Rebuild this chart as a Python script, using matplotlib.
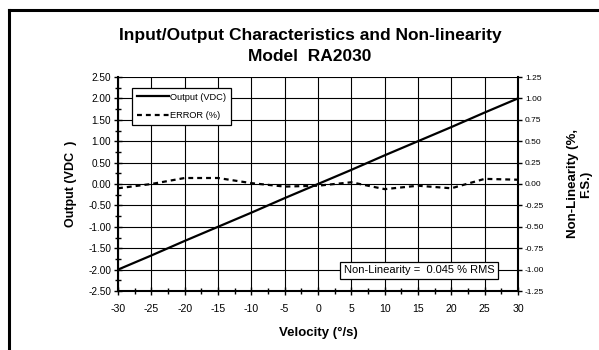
import matplotlib
matplotlib.use("Agg")
import matplotlib.pyplot as plt
from matplotlib.lines import Line2D

plt.rcParams['font.family'] = ['Liberation Sans', 'DejaVu Sans']

velocity = [-30, -25, -20, -15, -10, -5, 0, 5, 10, 15, 20, 25, 30]
output_vdc = [-2.00, -1.67, -1.33, -1.00, -0.67, -0.33, 0.00, 0.33, 0.67, 1.00, 1.33, 1.67, 2.00]
error_pct = [-0.05, 0.00, 0.07, 0.07, 0.01, -0.03, -0.02, 0.02, -0.06, -0.02, -0.05, 0.06, 0.05]

x_ticks = [-30, -25, -20, -15, -10, -5, 0, 5, 10, 15, 20, 25, 30]
left_ticks = [-2.5, -2.0, -1.5, -1.0, -0.5, 0.0, 0.5, 1.0, 1.5, 2.0, 2.5]
right_ticks = [-1.25, -1.0, -0.75, -0.5, -0.25, 0.0, 0.25, 0.5, 0.75, 1.0, 1.25]

fig = plt.figure(figsize=(5.99, 3.5), dpi=100)
W, H = 599, 350
ax = fig.add_axes([118 / W, 1 - 291 / H, 400 / W, 214 / H])
ax2 = ax.twinx()

ax.plot(velocity, output_vdc, color='black', lw=1.6, zorder=3)
ax2.plot(velocity, error_pct, color='black', lw=1.6, dashes=(2.2, 1.8), zorder=3)

ax.set_xlim(-30, 30)
ax.set_ylim(-2.5, 2.5)
ax2.set_ylim(-1.25, 1.25)

ax.set_xticks(x_ticks)
ax.set_xticklabels([str(v) for v in x_ticks], fontsize=7.6)
ax.set_xticks([v + 2.5 for v in x_ticks[:-1]], minor=True)
ax.set_yticks(left_ticks)
ax.set_yticklabels([f"{v:.2f}" for v in left_ticks], fontsize=7.2)
ax.set_yticks([v + 0.25 for v in left_ticks[:-1]], minor=True)
ax2.set_yticks(right_ticks)
ax2.set_yticklabels([f"{v:.2f}" for v in right_ticks], fontsize=6)

ax.tick_params(axis='both', which='major', direction='inout', length=6, width=1, pad=2)
ax.tick_params(axis='both', which='minor', direction='inout', length=4, width=1)
ax.tick_params(axis='x', which='major', pad=6)
ax2.tick_params(axis='y', which='major', direction='out', length=3, width=1, pad=2)

ax.grid(True, which='major', color='black', lw=0.8)
for sp in ['top', 'right']:
    ax.spines[sp].set_visible(False)
ax.spines['left'].set_linewidth(1.5)
ax.spines['bottom'].set_linewidth(1.5)
for sp in ['top', 'left', 'bottom']:
    ax2.spines[sp].set_visible(False)
ax2.spines['right'].set_linewidth(1.5)

ax.set_xlabel('Velocity (°/s)', fontsize=9.5, fontweight='bold', labelpad=10)
ax.set_ylabel('Output (VDC  )', fontsize=9, fontweight='bold', labelpad=8)
ax2.set_ylabel('Non-Linearity (%,\nF.S.)', fontsize=9.5, fontweight='bold', labelpad=16)

fig.text(310 / W, 1 - 46 / H, 'Input/Output Characteristics and Non-linearity\nModel  RA2030',
         ha='center', va='center', fontsize=12.5, fontweight='bold', linespacing=1.45)

handles = [Line2D([], [], color='black', lw=1.6),
           Line2D([], [], color='black', lw=1.6, dashes=(2.2, 1.8))]
leg = ax2.legend(handles, ['Output (VDC)', 'ERROR (%)'], loc='upper left',
                 bbox_to_anchor=(0.035, 0.949), borderaxespad=0, fontsize=6.7,
                 handlelength=3.5, handletextpad=0.1, labelspacing=1.0,
                 fancybox=False, framealpha=1, edgecolor='black', borderpad=0.5)
leg.get_frame().set_linewidth(0.9)

ax2.text(0.7525, 0.096, 'Non-Linearity =  0.045 % RMS', transform=ax2.transAxes,
         fontsize=8, ha='center', va='center',
         bbox=dict(boxstyle='square,pad=0.35', facecolor='white', edgecolor='black', lw=0.9),
         zorder=5)

# outer frame (top and left edges)
fig.add_artist(Line2D([9 / W, 1.0], [1 - 10 / H, 1 - 10 / H], color='black', lw=2.2,
                      transform=fig.transFigure))
fig.add_artist(Line2D([9 / W, 9 / W], [0.0, 1 - 10 / H], color='black', lw=2.2,
                      transform=fig.transFigure))

fig.savefig('out.png', dpi=100)
